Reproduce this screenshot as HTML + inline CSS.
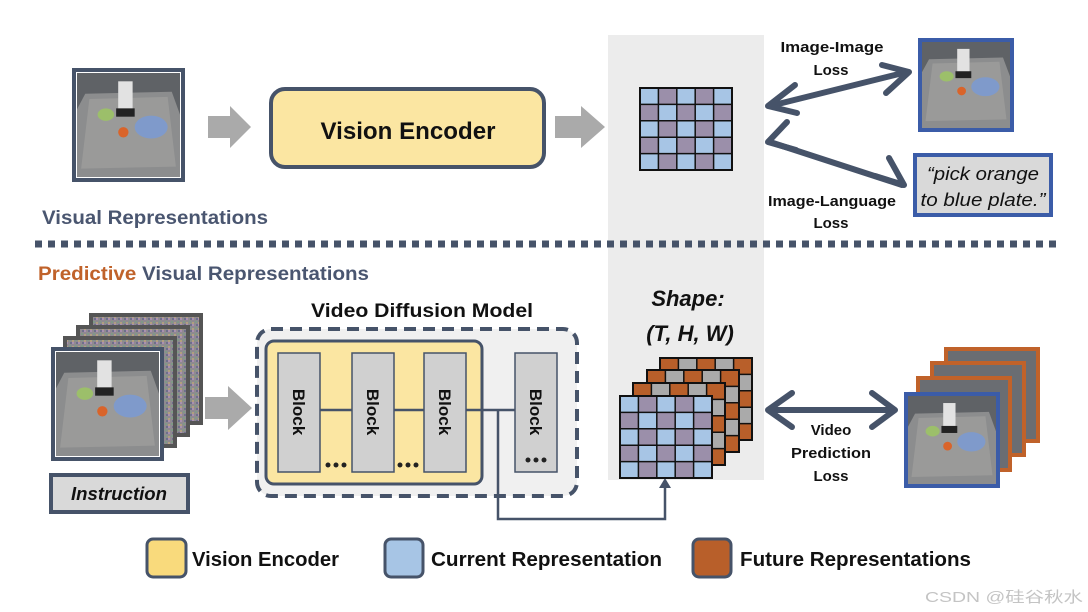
<!DOCTYPE html>
<html><head><meta charset="utf-8"><style>
html,body{margin:0;padding:0;background:#fff;width:1088px;height:612px;overflow:hidden}
text{font-family:"Liberation Sans","Noto Sans CJK SC",sans-serif}
</style></head><body>
<svg width="1088" height="612" viewBox="0 0 1088 612" xmlns="http://www.w3.org/2000/svg">
<defs>
<pattern id="gb" x="0" y="0" width="36.8" height="32.8" patternUnits="userSpaceOnUse">
<rect width="36.8" height="32.8" fill="#9b8faa"/><rect width="18.4" height="16.4" fill="#a7c5e5"/><rect x="18.4" y="16.4" width="18.4" height="16.4" fill="#a7c5e5"/>
</pattern>
<pattern id="go" x="0" y="0" width="36.8" height="32.8" patternUnits="userSpaceOnUse">
<rect width="36.8" height="32.8" fill="#aaaaaa"/><rect width="18.4" height="16.4" fill="#b85f2a"/><rect x="18.4" y="16.4" width="18.4" height="16.4" fill="#b85f2a"/>
</pattern>
<pattern id="noise" width="6" height="6" patternUnits="userSpaceOnUse">
<rect width="6" height="6" fill="#8f8a90"/><rect width="2" height="2" fill="#a98fb0"/><rect x="3" y="3" width="2" height="2" fill="#7f9a86"/><rect x="4" y="0" width="2" height="2" fill="#6e6f8c"/><rect x="0" y="4" width="2" height="2" fill="#b0a080"/>
</pattern>
<g id="lines" stroke="#111" stroke-width="1.5">
<line x1="18.4" y1="0" x2="18.4" y2="82"/><line x1="36.8" y1="0" x2="36.8" y2="82"/><line x1="55.2" y1="0" x2="55.2" y2="82"/><line x1="73.6" y1="0" x2="73.6" y2="82"/>
<line x1="0" y1="16.4" x2="92" y2="16.4"/><line x1="0" y1="32.8" x2="92" y2="32.8"/><line x1="0" y1="49.2" x2="92" y2="49.2"/><line x1="0" y1="65.6" x2="92" y2="65.6"/>
</g>
<g id="bgrid"><rect width="92" height="82" fill="url(#gb)" stroke="#111" stroke-width="2"/><use href="#lines"/></g>
<g id="ogrid"><rect width="92" height="82" fill="url(#go)" stroke="#111" stroke-width="2"/><use href="#lines"/></g>
<g id="photo">
<rect width="100" height="100" fill="#5f6266"/>
<path d="M8 20 L92 18 L100 40 L100 100 L0 100 L0 35 Z" fill="#8c8d8e"/>
<path d="M12 25 L88 23 L96 90 L4 92 Z" fill="#9a9a99"/>
<ellipse cx="72" cy="52" rx="16" ry="11" fill="#7f9acb"/>
<circle cx="45" cy="57" r="5" fill="#d9642a"/>
<ellipse cx="28" cy="40" rx="8" ry="6" fill="#9cbf6a"/>
<rect x="40" y="8" width="14" height="30" fill="#e2e2e2"/>
<rect x="38" y="34" width="18" height="8" fill="#222"/>
</g>
</defs>

<rect x="608" y="35" width="156" height="445" fill="#ececec"/>

<rect x="74" y="70" width="109" height="110" fill="#fff" stroke="#465369" stroke-width="4"/>
<use href="#photo" transform="translate(77,73) scale(1.03,1.04)"/>

<path d="M208 116 L230 116 L230 106 L251 127 L230 148 L230 138 L208 138 Z" fill="#aaaaaa"/>
<path d="M555 116 L581 116 L581 106 L605 127 L581 148 L581 138 L555 138 Z" fill="#aaaaaa"/>

<rect x="271" y="89" width="273" height="78" rx="14" fill="#fbe6a2" stroke="#465369" stroke-width="4"/>
<text x="408" y="139" text-anchor="middle" font-size="24" font-weight="bold" fill="#111" textLength="175" lengthAdjust="spacingAndGlyphs">Vision Encoder</text>

<use href="#bgrid" transform="translate(640,88)"/>

<g stroke="#465369" stroke-width="6" fill="none" stroke-linecap="round" stroke-linejoin="round">
<line x1="770" y1="106" x2="907" y2="72"/>
<polyline points="795,85 768,106 797,113"/>
<polyline points="882,65 909,72 886,93"/>
<line x1="770" y1="142" x2="902" y2="185"/>
<polyline points="787,122 768,142 796,150"/>
<polyline points="875,176 904,185 889,158"/>
<line x1="770" y1="410" x2="893" y2="410"/>
<polyline points="792,393 768,410 792,427"/>
<polyline points="872,393 895,410 872,427"/>
</g>
<g font-size="15" font-weight="bold" fill="#111" text-anchor="middle">
<text x="832" y="52" textLength="103" lengthAdjust="spacingAndGlyphs">Image-Image</text>
<text x="831" y="75">Loss</text>
<text x="832" y="206" textLength="128" lengthAdjust="spacingAndGlyphs">Image-Language</text>
<text x="831" y="228">Loss</text>
<text x="831" y="435">Video</text>
<text x="831" y="458" textLength="80" lengthAdjust="spacingAndGlyphs">Prediction</text>
<text x="831" y="481">Loss</text>
</g>

<rect x="920" y="40" width="92" height="90" fill="#fff" stroke="#3b5ca8" stroke-width="4"/>
<use href="#photo" transform="translate(922,42) scale(0.88,0.86)"/>
<rect x="915" y="155" width="136" height="60" fill="#d9d9d9" stroke="#3b5ca8" stroke-width="4"/>
<g font-size="18" font-style="italic" fill="#111" text-anchor="middle">
<text x="983" y="180" textLength="112" lengthAdjust="spacingAndGlyphs">“pick orange</text>
<text x="983" y="206" textLength="125" lengthAdjust="spacingAndGlyphs">to blue plate.”</text>
</g>

<text x="42" y="224" font-size="19" font-weight="bold" fill="#4a5670" textLength="226" lengthAdjust="spacingAndGlyphs">Visual Representations</text>

<line x1="35" y1="244" x2="1060" y2="244" stroke="#465369" stroke-width="7" stroke-dasharray="7,6"/>

<text x="38" y="280" font-size="19" font-weight="bold" textLength="331" lengthAdjust="spacingAndGlyphs"><tspan fill="#c0622a">Predictive</tspan><tspan fill="#4a5670"> Visual Representations</tspan></text>

<g stroke="#555" stroke-width="4">
<rect x="91" y="315" width="110" height="108" fill="url(#noise)"/>
<rect x="78" y="327" width="110" height="108" fill="url(#noise)"/>
<rect x="65" y="338" width="110" height="108" fill="url(#noise)"/>
</g>
<rect x="53" y="349" width="109" height="110" fill="#fff" stroke="#465369" stroke-width="4"/>
<use href="#photo" transform="translate(56,352) scale(1.03,1.04)"/>
<rect x="51" y="475" width="137" height="37" fill="#d9d9d9" stroke="#465369" stroke-width="4"/>
<text x="119" y="500" text-anchor="middle" font-size="18" font-weight="bold" font-style="italic" fill="#111" textLength="96" lengthAdjust="spacingAndGlyphs">Instruction</text>

<path d="M205 397 L228 397 L228 386 L252 408 L228 430 L228 419 L205 419 Z" fill="#aaaaaa"/>

<text x="422" y="317" text-anchor="middle" font-size="19" font-weight="bold" fill="#111" textLength="222" lengthAdjust="spacingAndGlyphs">Video Diffusion Model</text>
<rect x="257" y="329" width="320" height="167" rx="14" fill="#f0f0f0" stroke="#465369" stroke-width="4" stroke-dasharray="12,7"/>
<rect x="266" y="341" width="216" height="143" rx="8" fill="#fbe6a2" stroke="#465369" stroke-width="3"/>
<line x1="320" y1="410" x2="352" y2="410" stroke="#465369" stroke-width="2.5"/>
<line x1="394" y1="410" x2="424" y2="410" stroke="#465369" stroke-width="2.5"/>
<line x1="466" y1="410" x2="515" y2="410" stroke="#465369" stroke-width="2.5"/>
<g fill="#d0d0d0" stroke="#465369" stroke-width="1.5">
<rect x="278" y="353" width="42" height="119"/>
<rect x="352" y="353" width="42" height="119"/>
<rect x="424" y="353" width="42" height="119"/>
<rect x="515" y="353" width="42" height="119"/>
</g>
<g font-size="17" font-weight="bold" fill="#111" text-anchor="middle">
<text transform="translate(293,412) rotate(90)">Block</text>
<text transform="translate(367,412) rotate(90)">Block</text>
<text transform="translate(439,412) rotate(90)">Block</text>
<text transform="translate(530,412) rotate(90)">Block</text>
</g>
<g fill="#222">
<circle cx="328" cy="465" r="2.5"/><circle cx="336" cy="465" r="2.5"/><circle cx="344" cy="465" r="2.5"/>
<circle cx="400" cy="465" r="2.5"/><circle cx="408" cy="465" r="2.5"/><circle cx="416" cy="465" r="2.5"/>
<circle cx="528" cy="460" r="2.5"/><circle cx="536" cy="460" r="2.5"/><circle cx="544" cy="460" r="2.5"/>
</g>
<polyline points="498,410 498,519 665,519 665,484" fill="none" stroke="#465369" stroke-width="2.5"/>
<path d="M659 488 L665 478 L671 488 Z" fill="#465369"/>

<g font-size="22" font-weight="bold" font-style="italic" fill="#111" text-anchor="middle">
<text x="688" y="306">Shape:</text>
<text x="690" y="341">(T, H, W)</text>
</g>

<use href="#ogrid" transform="translate(660,358)"/>
<use href="#ogrid" transform="translate(647,370)"/>
<use href="#ogrid" transform="translate(633,383)"/>
<use href="#bgrid" transform="translate(620,396)"/>

<g stroke="#c0622a" stroke-width="4" fill="#6a6d72">
<rect x="946" y="349" width="92" height="92"/>
<rect x="932" y="363" width="92" height="92"/>
<rect x="918" y="378" width="92" height="92"/>
</g>
<rect x="906" y="394" width="92" height="92" fill="#fff" stroke="#3b5ca8" stroke-width="4"/>
<use href="#photo" transform="translate(908,396) scale(0.88,0.88)"/>

<rect x="147" y="539" width="39" height="38" rx="6" fill="#f9da7c" stroke="#465369" stroke-width="3"/>
<rect x="385" y="539" width="38" height="38" rx="6" fill="#a7c5e5" stroke="#465369" stroke-width="3"/>
<rect x="693" y="539" width="38" height="38" rx="6" fill="#b85f2a" stroke="#465369" stroke-width="3"/>
<g font-size="20" font-weight="bold" fill="#111">
<text x="192" y="566" textLength="147" lengthAdjust="spacingAndGlyphs">Vision Encoder</text>
<text x="431" y="566" textLength="231" lengthAdjust="spacingAndGlyphs">Current Representation</text>
<text x="740" y="566" textLength="231" lengthAdjust="spacingAndGlyphs">Future Representations</text>
</g>
<text x="925" y="602" font-size="15" fill="#c4c4c4" textLength="158" lengthAdjust="spacingAndGlyphs">CSDN @硅谷秋水</text>
</svg>
</body></html>
